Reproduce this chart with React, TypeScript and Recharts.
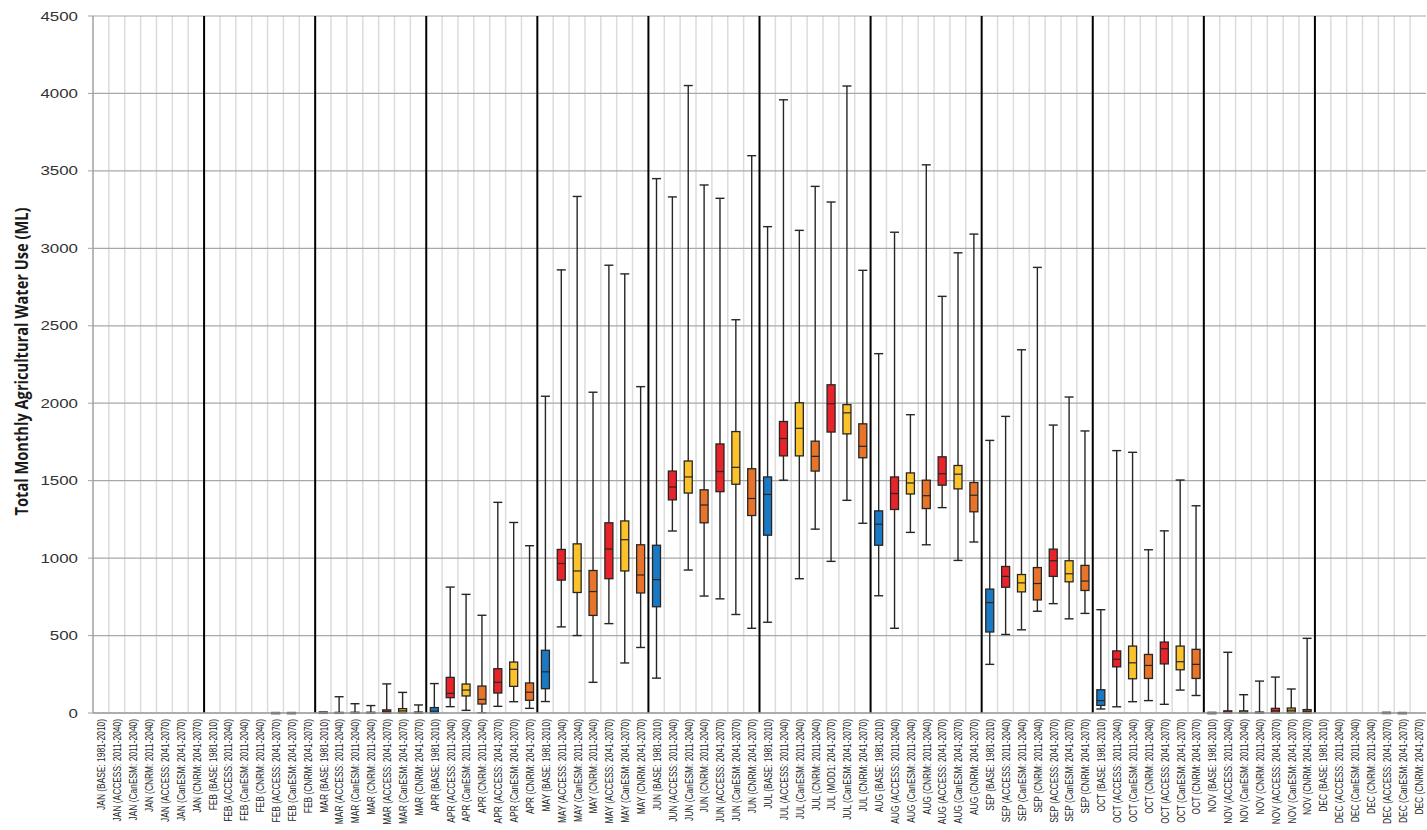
import React from 'react'
import { ComposedChart, Bar, XAxis, YAxis, CartesianGrid } from 'recharts'

// months and scenarios make up the 84 categories
const MONTHS = ['JAN', 'FEB', 'MAR', 'APR', 'MAY', 'JUN', 'JUL', 'AUG', 'SEP', 'OCT', 'NOV', 'DEC']
const SCENARIOS = [
  'BASE: 1981-2010',
  'ACCESS: 2011-2040',
  'CanESM: 2011-2040',
  'CNRM: 2011-2040',
  'ACCESS: 2041-2070',
  'CanESM: 2041-2070',
  'CNRM: 2041-2070',
]
// the source chart labels one box differently
const LABEL_FIXES: Record<string, string> = {
  'JUL (ACCESS: 2041-2070)': 'JUL (MOD1: 2041-2070)',
}
const SCENARIO_COLORS = ['#1b78c2', '#e8232a', '#fbc22c', '#e8742a', '#e8232a', '#fbc22c', '#e8742a']

const Y_TICKS = [0, 500, 1000, 1500, 2000, 2500, 3000, 3500, 4000, 4500]

// one row per month, one value per scenario
const WHISKER_MIN = [
  0, 0, 0, 0, 0, 0, 0,
  0, 0, 0, 0, 0, 0, 0,
  0, 0, 0, 0, 0, 0, 0,
  0, 41, 17, 2, 43, 73, 30,
  74, 556, 500, 198, 577, 323, 423,
  225, 1175, 923, 755, 737, 636, 547,
  586, 1503, 867, 1187, 979, 1373, 1225,
  757, 547, 1166, 1086, 1326, 985, 1104,
  314, 507, 537, 657, 706, 608, 643,
  26, 40, 73, 80, 56, 148, 113,
  0, 0, 0, 0, 0, 0, 0,
  0, 0, 0, 0, 0, 0, 0,
]
const Q1 = [
  0, 0, 0, 0, 0, 0, 0,
  0, 0, 0, 0, 0, 0, 0,
  1, 1, 1, 1, 2, 4, 1,
  3, 99, 110, 58, 129, 172, 82,
  157, 858, 778, 630, 867, 917, 775,
  686, 1376, 1420, 1228, 1429, 1477, 1275,
  1148, 1660, 1660, 1562, 1814, 1802, 1648,
  1083, 1314, 1414, 1320, 1471, 1447, 1299,
  523, 812, 782, 730, 882, 847, 791,
  49, 298, 221, 223, 317, 279, 223,
  0, 2, 2, 1, 3, 6, 6,
  0, 0, 0, 0, 0, 0, 0,
]
const MEDIAN = [
  0, 0, 0, 0, 0, 0, 0,
  0, 0, 0, 0, 1, 1, 0,
  2, 2, 2, 2, 8, 14, 3,
  12, 127, 148, 88, 198, 282, 134,
  266, 965, 917, 784, 1059, 1119, 891,
  861, 1459, 1524, 1343, 1559, 1586, 1385,
  1411, 1772, 1838, 1657, 1997, 1938, 1722,
  1219, 1417, 1485, 1403, 1545, 1542, 1406,
  713, 882, 840, 836, 983, 899, 852,
  80, 347, 324, 307, 415, 331, 314,
  1, 6, 6, 3, 14, 18, 12,
  0, 0, 0, 0, 1, 1, 0,
]
const Q3 = [
  0, 0, 0, 0, 0, 0, 0,
  0, 0, 0, 0, 2, 2, 0,
  4, 4, 5, 5, 20, 28, 6,
  35, 230, 187, 174, 286, 329, 194,
  405, 1056, 1092, 920, 1228, 1240, 1086,
  1083, 1562, 1627, 1441, 1737, 1817, 1577,
  1524, 1882, 2003, 1755, 2119, 1991, 1867,
  1305, 1524, 1550, 1503, 1654, 1598, 1488,
  800, 946, 894, 939, 1058, 983, 953,
  150, 401, 432, 378, 458, 432, 411,
  2, 14, 14, 6, 30, 32, 22,
  0, 0, 0, 0, 3, 2, 0,
]
const WHISKER_MAX = [
  0, 0, 0, 0, 0, 0, 0,
  0, 0, 0, 0, 3, 3, 0,
  6, 105, 60, 48, 188, 133, 52,
  190, 813, 766, 631, 1360, 1230, 1080,
  2045, 2861, 3335, 2071, 2891, 2835, 2107,
  3450, 3332, 4051, 3409, 3323, 2539, 3598,
  3140, 3959, 3116, 3400, 3299, 4048, 2858,
  2320, 3104, 1926, 3539, 2690, 2971, 3092,
  1760, 1915, 2345, 2877, 1859, 2040, 1821,
  667, 1694, 1683, 1054, 1176, 1504, 1338,
  4, 392, 118, 206, 232, 155, 482,
  0, 0, 0, 0, 4, 3, 0,
]

const CATEGORIES = MONTHS.flatMap((m) =>
  SCENARIOS.map((s) => {
    const label = `${m} (${s})`
    return LABEL_FIXES[label] ?? label
  })
)

const data = CATEGORIES.map((name, i) => ({
  name,
  min: WHISKER_MIN[i],
  q1: Q1[i],
  median: MEDIAN[i],
  q3: Q3[i],
  max: WHISKER_MAX[i],
  color: SCENARIO_COLORS[i % SCENARIOS.length],
}))

const LINE = '#262626'

// whole box-and-whisker drawn inside the bar that runs from 0 to the max
const BoxShape = (props: any) => {
  const { x, y, width, height, payload } = props
  if (!payload || !payload.max || !height) return <g />
  const cx = x + width / 2
  const base = y + height
  const k = height / payload.max
  const py = (v: number) => base - v * k
  const boxW = 8
  const capW = 9
  const top = py(payload.q3)
  const boxH = Math.max(py(payload.q1) - top, 1)
  return (
    <g>
      <line x1={cx} x2={cx} y1={py(payload.max)} y2={py(payload.min)} stroke={LINE} strokeWidth={1.4} />
      <line x1={cx - capW / 2} x2={cx + capW / 2} y1={py(payload.max)} y2={py(payload.max)} stroke={LINE} strokeWidth={1.4} />
      <line x1={cx - capW / 2} x2={cx + capW / 2} y1={py(payload.min)} y2={py(payload.min)} stroke={LINE} strokeWidth={1.4} />
      <rect x={cx - boxW / 2} y={top} width={boxW} height={boxH} fill={payload.color} stroke={LINE} strokeWidth={1.3} />
      <line x1={cx - boxW / 2} x2={cx + boxW / 2} y1={py(payload.median)} y2={py(payload.median)} stroke={LINE} strokeWidth={1.2} />
    </g>
  )
}

const XTick = (props: any) => {
  const { x, y, payload } = props
  return (
    <text
      transform={`translate(${x + 1},${y}) rotate(-90) scale(0.84,1)`}
      textAnchor="end"
      dy="0.35em"
      fontSize={10}
      fontFamily="'Liberation Sans', Arial, sans-serif"
      fill="#222"
    >
      {payload.value}
    </text>
  )
}

const YTick = (props: any) => {
  const { x, y, payload } = props
  return (
    <text
      transform={`translate(${x},${y}) scale(1.3,1)`}
      textAnchor="end"
      dy="0.35em"
      fontSize={13}
      fontFamily="'Liberation Sans', Arial, sans-serif"
      fill="#333"
    >
      {payload.value}
    </text>
  )
}

const YTitle = (props: any) => {
  const vb = props.viewBox || { x: 0, y: 16, height: 697 }
  const tx = 28
  const ty = vb.y + vb.height / 2 - 3
  return (
    <text
      x={tx}
      y={ty}
      transform={`rotate(-90, ${tx}, ${ty})`}
      textAnchor="middle"
      fontSize={17}
      fontWeight={700}
      fontFamily="'Open Sans', sans-serif"
      fill="#1a1a1a"
      textLength={308}
      lengthAdjust="spacingAndGlyphs"
    >
      Total Monthly Agricultural Water Use (ML)
    </text>
  )
}

// category boundaries, every one light grey and every month boundary black
const boundaries = (offset: any, everyMonth: boolean) => {
  const step = offset.width / CATEGORIES.length
  const pts: number[] = []
  for (let i = 1; i < CATEGORIES.length; i++) {
    const isMonth = i % SCENARIOS.length === 0
    if (everyMonth ? isMonth : !isMonth) pts.push(offset.left + i * step)
  }
  return pts
}

export default function App() {
  return (
    <div style={{ position: 'absolute', left: 0, top: 0, width: 1427, height: 830, background: '#fff' }}>
      <ComposedChart width={1427} height={830} data={data} margin={{ top: 16, right: 1, left: 0, bottom: 0 }}>
        <CartesianGrid
          horizontal={false}
          stroke="#dcdcdc"
          strokeWidth={1.5}
          verticalCoordinatesGenerator={({ offset }: any) => boundaries(offset, false)}
        />
        <CartesianGrid vertical={false} stroke="#a8a8a8" strokeWidth={1.2} />
        <CartesianGrid
          horizontal={false}
          stroke="#000"
          strokeWidth={2}
          verticalCoordinatesGenerator={({ offset }: any) => boundaries(offset, true)}
        />
        <XAxis
          dataKey="name"
          interval={0}
          height={117}
          tick={<XTick />}
          tickLine={false}
          tickSize={0}
          tickMargin={6}
          axisLine={{ stroke: '#a0a0a0', strokeWidth: 1.5 }}
        />
        <YAxis
          width={93}
          domain={[0, 4500]}
          ticks={Y_TICKS}
          tick={<YTick />}
          tickSize={5}
          tickMargin={10}
          tickLine={{ stroke: '#a0a0a0' }}
          axisLine={{ stroke: '#a0a0a0', strokeWidth: 1.5 }}
          label={<YTitle />}
        />
        <Bar dataKey="max" isAnimationActive={false} shape={BoxShape} />
      </ComposedChart>
    </div>
  )
}
